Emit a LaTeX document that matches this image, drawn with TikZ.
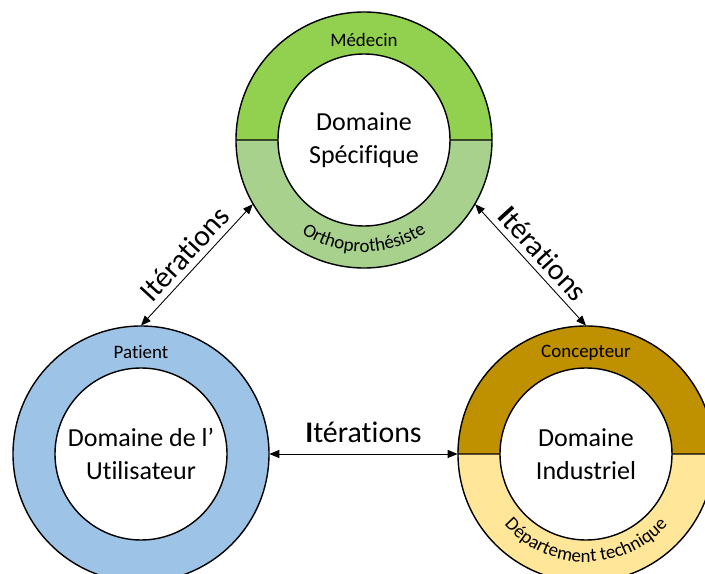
\documentclass[tikz,border=0pt]{standalone}
\usepackage{fontspec}
\setmainfont{Carlito}[Ligatures=NoCommon]
\usetikzlibrary{arrows.meta,decorations.text}
\definecolor{medgreen}{HTML}{92D050}
\definecolor{orthogreen}{HTML}{A9D18E}
\definecolor{userblue}{HTML}{9DC3E6}
\definecolor{conceptgold}{HTML}{BF9000}
\definecolor{techyellow}{HTML}{FFE699}
\newcommand\rolefont{\fontsize{10.8}{13}\selectfont}

\begin{document}
\begin{tikzpicture}[>={Triangle[length=2mm,width=1.6mm]},
  ring/.style={circle,minimum size=5.12cm,inner sep=0pt},
  core/.style={circle,draw,line width=0.8pt,fill=white,minimum size=3.44cm,inner sep=0pt,align=center,font=\fontsize{14.8}{18.8}\selectfont},
  role/.style={font=\rolefont},
  iter/.style={font=\fontsize{17}{20}\selectfont,above}]
\useasboundingbox (0,0) rectangle (14.1,11.48);
\clip (0,0) rectangle (14.1,11.48);
\node[ring,fill=orthogreen] (spec) at (7.28,8.68) {};
\fill[medgreen] (spec.west) arc[start angle=180,end angle=0,radius=2.56] -- cycle;
\draw[line width=0.8pt] (spec.center) circle[radius=2.56] (spec.west) -- (spec.east);
\node[core] (specin) at (spec) {Domaine\\Spécifique};
\node[role] (medecin) at (7.28,10.68) {Médecin};
\path[decorate,decoration={text along path,text align=center,text={|\rolefont|Orthoprothésiste}}]
  ([shift={(198:2.24)}]spec.center) arc[start angle=198,end angle=342,radius=2.24];
\node[ring,fill=userblue] (user) at (2.82,2.4) {};
\draw[line width=0.8pt] (user.center) circle[radius=2.56];
\node[core] (userin) at (user) {Domaine de l’\\Utilisateur};
\node[role] (patient) at (2.82,4.44) {Patient};
\node[ring,fill=techyellow] (ind) at (11.72,2.4) {};
\fill[conceptgold] (ind.west) arc[start angle=180,end angle=0,radius=2.56] -- cycle;
\draw[line width=0.8pt] (ind.center) circle[radius=2.56] (ind.west) -- (ind.east);
\node[core] (indin) at (ind) {Domaine\\Industriel};
\node[role] (concepteur) at (11.72,4.42) {Concepteur};
\path[decorate,decoration={text along path,text align=center,text={|\rolefont|Département technique}}]
  ([shift={(198:2.16)}]ind.center) arc[start angle=198,end angle=342,radius=2.16];
\draw[<->,line width=0.5pt] (user.90) -- node[iter,sloped]{Itérations} (spec.210);
\draw[<->,line width=0.5pt] (spec.330) -- node[iter,sloped]{\textbf{I}térations} (ind.90);
\draw[<->,line width=0.5pt] (user.east) -- node[iter,above=3pt]{\textbf{I}térations} (ind.west);
\end{tikzpicture}
\end{document}
